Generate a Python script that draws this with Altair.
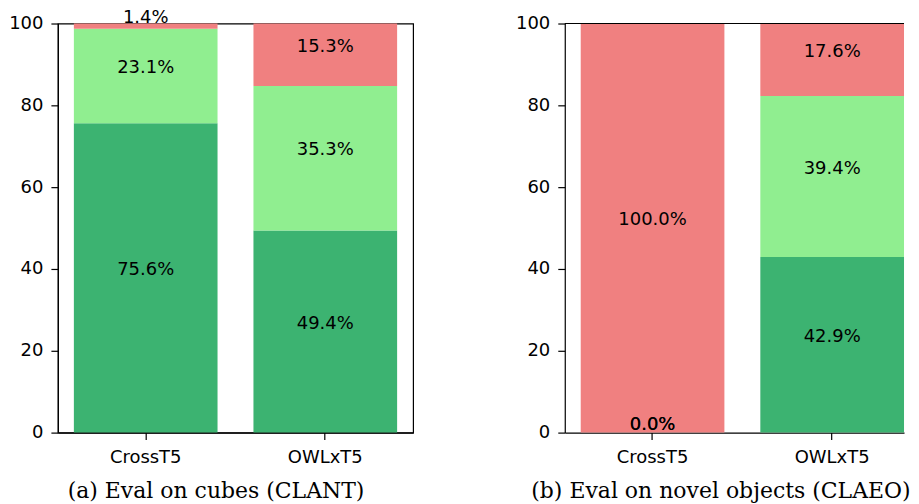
import altair as alt
import pandas as pd

models = ["CrossT5", "OWLxT5"]
categories = ["success", "partial", "fail"]
colors = ["#3CB371", "#90EE90", "#F08080"]

# panel (a) Eval on cubes (CLANT)
a_success = [75.6, 49.4]
a_partial = [23.1, 35.3]
a_fail = [1.4, 15.3]

# panel (b) Eval on novel objects (CLAEO)
b_success = [0.0, 42.9]
b_partial = [0.0, 39.4]
b_fail = [100.0, 17.6]

captions = ["(a) Eval on cubes (CLANT)", "(b) Eval on novel objects (CLAEO)"]
y_ticks = [0, 20, 40, 60, 80, 100]


def make_df(s, p, f):
    rows = []
    for i, m in enumerate(models):
        for k, (cat, vals) in enumerate(zip(categories, [s, p, f])):
            rows.append({"model": m, "cat": cat, "order": k, "value": vals[i]})
    return pd.DataFrame(rows)


def panel(df, caption, width, pad_outer, align, title_x, framed):
    base = alt.Chart(df).transform_stack(
        stack="value", groupby=["model"], as_=["y0", "y1"],
        sort=[alt.SortField("order", order="ascending")]
    ).transform_calculate(
        mid="(datum.y0 + datum.y1) / 2",
        label="format(datum.value, '.1f') + '%'"
    )
    xscale = alt.Scale(paddingInner=0.2, paddingOuter=pad_outer, align=align)
    x = alt.X("model:N", sort=models, scale=xscale,
              axis=alt.Axis(title=caption, labelAngle=0, titleX=title_x, titleY=65,
                            titleAlign="center", titleBaseline="alphabetic",
                            titleFont="DejaVu Serif", titleFontSize=22,
                            titleFontWeight="normal", titleColor="black"))
    yscale = alt.Scale(domain=[0, 100], nice=False, zero=True, clamp=True)
    bars = base.mark_bar(stroke=None).encode(
        x=x,
        y=alt.Y("y0:Q", scale=yscale,
                axis=alt.Axis(title=None, values=y_ticks, grid=False)),
        y2="y1:Q",
        color=alt.Color("cat:N", scale=alt.Scale(domain=categories, range=colors), legend=None),
    )
    text = base.mark_text(fontSize=18, font="DejaVu Sans", color="black",
                          baseline="alphabetic", dy=-3, clip=False).encode(
        x=alt.X("model:N", sort=models),
        y=alt.Y("mid:Q", scale=yscale),
        text="label:N",
    )
    layers = [bars, text]
    if not framed:
        top = alt.Chart(pd.DataFrame({"top": [100]})).mark_rule(
            color="black", strokeWidth=1.2
        ).encode(y=alt.Y("top:Q", scale=yscale))
        layers.append(top)
    ch = alt.layer(*layers).properties(width=width, height=410)
    if not framed:
        ch = ch.properties(view=alt.ViewBackground(stroke="transparent"))
    return ch


left = panel(make_df(a_success, a_partial, a_fail), captions[0],
             356, 0.089, 0.5, 158, True)
right = panel(make_df(b_success, b_partial, b_fail), captions[1],
              340, 0.0444, 1.0, 156, False)

chart = alt.hconcat(left, right, spacing=101).properties(
    padding={"left": 0, "top": -1, "right": 0, "bottom": 0}
).configure_view(
    stroke="black", strokeWidth=1.2
).configure_axis(
    labelFont="DejaVu Sans", labelFontSize=18, labelColor="black",
    tickColor="black", tickSize=7, tickWidth=1.2,
    domainColor="black", domainWidth=1.2,
).configure_axisX(
    labelPadding=9
).configure_axisY(
    labelPadding=8
)

chart.save("out.html", embed_options={"renderer": "svg", "actions": False})
